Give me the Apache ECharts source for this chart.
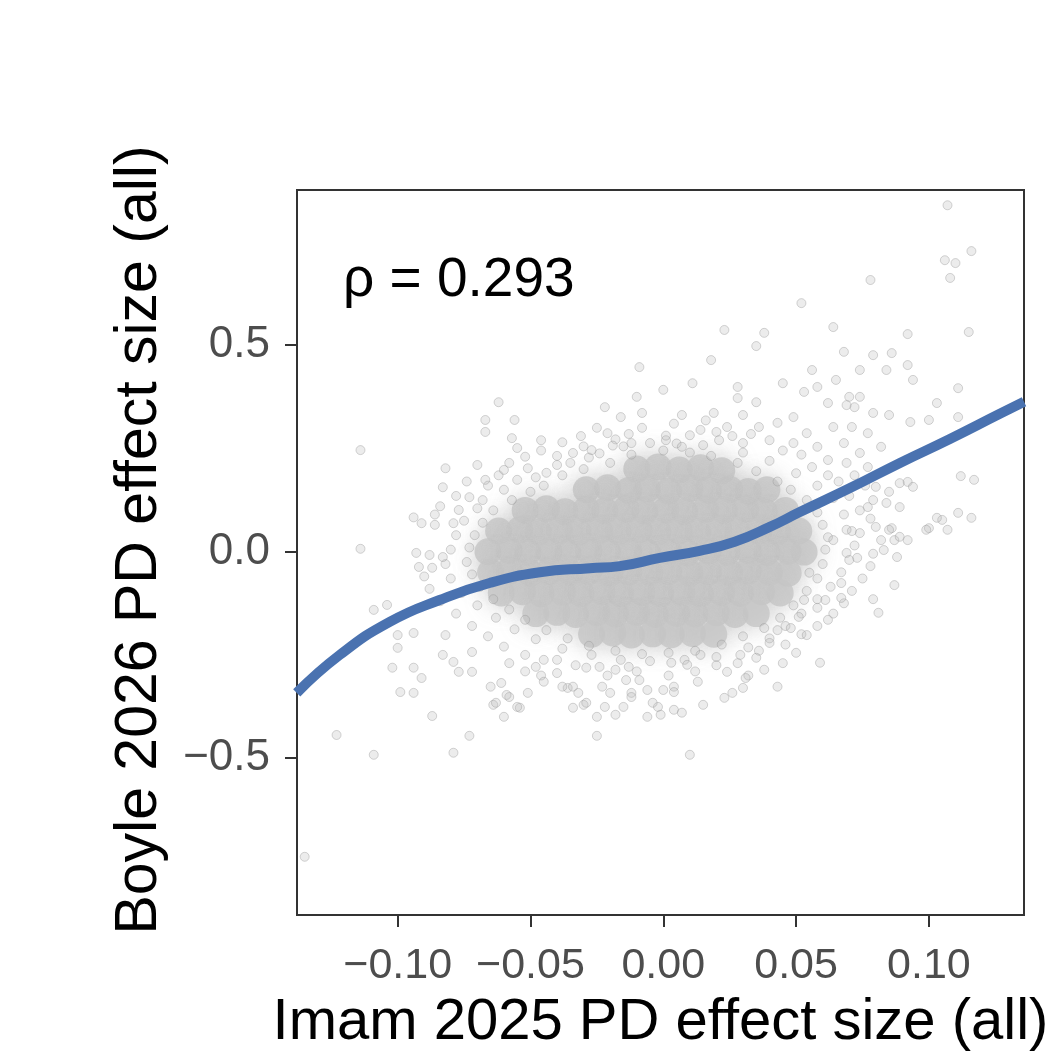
<!DOCTYPE html>
<html>
<head>
<meta charset="utf-8">
<title>PD effect size comparison</title>
<script src="https://cdn.jsdelivr.net/npm/echarts@6/dist/echarts.min.js"></script>
<style>
  html, body { margin: 0; padding: 0; background: #fff; }
  #chart { width: 1052px; height: 1057px; }
</style>
</head>
<body>
<div id="chart"></div>
<script>
// axis ticks
var xTicks = [-0.1, -0.05, 0, 0.05, 0.1]
var xTickLabels = ['\u22120.10', '\u22120.05', '0.00', '0.05', '0.10']
var yTicks = [-0.5, 0, 0.5]
var yTickLabels = ['\u22120.5', '0.0', '0.5']

// dense core of the cloud (points overlap into solid grey there)
var coreCloud = [
  [-0.010, 0.200], [-0.002, 0.205], [0.006, 0.198], [0.014, 0.203], [0.022, 0.196],
  [-0.029, 0.150], [-0.021, 0.155], [-0.013, 0.148], [-0.006, 0.152], [0.002, 0.147], [0.010, 0.153], [0.017, 0.149], [0.025, 0.151], [0.032, 0.146], [0.039, 0.150],
  [-0.052, 0.100], [-0.044, 0.104], [-0.037, 0.097], [-0.029, 0.102], [-0.022, 0.099], [-0.014, 0.103], [-0.007, 0.098], [0.001, 0.101], [0.008, 0.097], [0.016, 0.102], [0.023, 0.099], [0.031, 0.103], [0.038, 0.098], [0.046, 0.100],
  [-0.062, 0.050], [-0.054, 0.053], [-0.047, 0.048], [-0.039, 0.051], [-0.032, 0.047], [-0.024, 0.052], [-0.017, 0.049], [-0.009, 0.053], [-0.002, 0.048], [0.006, 0.051], [0.013, 0.047], [0.021, 0.052], [0.028, 0.049], [0.036, 0.051], [0.043, 0.048], [0.051, 0.050],
  [-0.066, 0.000], [-0.058, 0.003], [-0.051, -0.002], [-0.043, 0.001], [-0.036, -0.003], [-0.028, 0.002], [-0.021, -0.001], [-0.013, 0.003], [-0.006, -0.002], [0.002, 0.001], [0.009, -0.003], [0.017, 0.002], [0.024, -0.001], [0.032, 0.003], [0.039, -0.002], [0.047, 0.001], [0.053, -0.001],
  [-0.065, -0.050], [-0.058, -0.047], [-0.050, -0.052], [-0.043, -0.048], [-0.035, -0.051], [-0.028, -0.047], [-0.020, -0.052], [-0.013, -0.049], [-0.005, -0.051], [0.002, -0.048], [0.010, -0.052], [0.017, -0.049], [0.025, -0.051], [0.032, -0.047], [0.040, -0.050], [0.047, -0.052],
  [-0.061, -0.100], [-0.053, -0.097], [-0.046, -0.102], [-0.038, -0.098], [-0.031, -0.101], [-0.023, -0.097], [-0.016, -0.102], [-0.008, -0.099], [-0.001, -0.101], [0.007, -0.098], [0.014, -0.102], [0.022, -0.099], [0.029, -0.101], [0.037, -0.097], [0.044, -0.100],
  [-0.048, -0.150], [-0.040, -0.147], [-0.033, -0.152], [-0.025, -0.148], [-0.018, -0.151], [-0.010, -0.147], [-0.003, -0.152], [0.005, -0.149], [0.012, -0.151], [0.020, -0.148], [0.027, -0.152], [0.035, -0.150],
  [-0.027, -0.200], [-0.019, -0.197], [-0.012, -0.202], [-0.004, -0.199], [0.003, -0.201], [0.011, -0.198], [0.019, -0.200]
]

// points just around the core
var ringPoints = [
  [-0.045, 0.160], [-0.038, 0.185], [-0.030, 0.200], [-0.020, 0.215], [-0.012, 0.235], [0.000, 0.245], [0.010, 0.240], [0.018, 0.232], [0.028, 0.215], [0.035, 0.195], [0.043, 0.170],
  [0.048, 0.150], [0.054, 0.125], [0.058, 0.095], [0.060, 0.065], [0.062, 0.035], [0.061, 0.005], [0.060, -0.030], [0.058, -0.065], [0.054, -0.095], [0.049, -0.130], [0.044, -0.160],
  [0.038, -0.185], [0.030, -0.205], [0.022, -0.225], [0.012, -0.240], [0.002, -0.245], [-0.008, -0.248], [-0.018, -0.240], [-0.028, -0.228], [-0.036, -0.210], [-0.044, -0.190],
  [-0.052, -0.165], [-0.058, -0.140], [-0.064, -0.115], [-0.069, -0.085], [-0.072, -0.055], [-0.074, -0.025], [-0.073, 0.010], [-0.071, 0.040], [-0.068, 0.070], [-0.064, 0.100],
  [-0.057, 0.125], [-0.050, 0.145],
  [-0.060, 0.150], [-0.048, 0.180], [-0.040, 0.210], [-0.028, 0.228], [-0.015, 0.255], [0.005, 0.262], [0.015, 0.258], [0.030, 0.240], [0.040, 0.220], [0.050, 0.190],
  [0.058, 0.160], [0.064, 0.130], [0.068, 0.090], [0.071, 0.050], [0.072, 0.015], [0.070, -0.020], [0.067, -0.050], [0.063, -0.085], [0.058, -0.115], [0.052, -0.150],
  [0.046, -0.180], [0.040, -0.210], [0.032, -0.232], [0.020, -0.255], [0.008, -0.262], [-0.005, -0.265], [-0.016, -0.262], [-0.027, -0.250], [-0.038, -0.235], [-0.048, -0.212],
  [-0.056, -0.188], [-0.063, -0.160], [-0.070, -0.130], [-0.076, -0.100], [-0.080, -0.065], [-0.082, -0.030], [-0.080, 0.005], [-0.078, 0.040], [-0.075, 0.075], [-0.070, 0.105]
]

// speckled zone between the core and the sparse outliers
var midPoints = [
  [-0.066, 0.160], [-0.062, 0.185], [-0.058, 0.215], [-0.052, 0.230], [-0.046, 0.245], [-0.040, 0.232], [-0.035, 0.215], [-0.030, 0.255], [-0.024, 0.238], [-0.018, 0.272],
  [-0.013, 0.285], [-0.046, 0.270], [-0.038, 0.265], [-0.031, 0.280], [-0.025, 0.300], [-0.070, 0.210], [-0.074, 0.170], [-0.078, 0.135], [-0.084, 0.110], [-0.086, 0.090],
  [-0.008, 0.300], [0.004, 0.310], [0.010, 0.282], [0.016, 0.318], [0.020, 0.290], [0.026, 0.280], [0.033, 0.285], [0.040, 0.270], [0.045, 0.245], [0.052, 0.235],
  [0.056, 0.205], [0.062, 0.185], [0.066, 0.170], [0.072, 0.185], [0.076, 0.160], [0.070, 0.135], [0.074, 0.100], [0.078, 0.080], [0.080, 0.060],
  [-0.060, -0.230], [-0.066, -0.205], [-0.072, -0.180], [-0.078, -0.150], [-0.084, -0.120], [-0.088, -0.090], [-0.090, -0.060], [-0.052, -0.250], [-0.045, -0.262], [-0.033, -0.275],
  [-0.021, -0.300], [-0.010, -0.290], [0.002, -0.300], [0.012, -0.290], [0.020, -0.275], [0.028, -0.270], [0.036, -0.240], [0.046, -0.225], [0.052, -0.200], [0.058, -0.180],
  [0.064, -0.150], [0.068, -0.125], [0.071, -0.095], [0.075, -0.065], [0.078, -0.035], [0.079, -0.005], [-0.046, -0.300], [-0.052, -0.290], [-0.058, -0.270], [0.032, -0.300],
  [0.045, -0.270]
]

var outerPoints = [
  [0.107, 0.839], [0.106, 0.706], [0.110, 0.699], [0.116, 0.728], [0.108, 0.663], [0.078, 0.658], [0.115, 0.532], [0.092, 0.527], [0.052, 0.602], [0.064, 0.544],
  [0.023, 0.537], [0.038, 0.530], [0.035, 0.498], [0.018, 0.464], [0.068, 0.484], [0.079, 0.476], [0.086, 0.481], [0.092, 0.452], [0.084, 0.440], [0.074, 0.440],
  [0.056, 0.440], [0.065, 0.416], [0.094, 0.416], [0.111, 0.396], [0.011, 0.408], [0.045, 0.408], [0.028, 0.399], [0.053, 0.387], [0.058, 0.399], [0.103, 0.360],
  [0.111, 0.326], [0.100, 0.319], [0.093, 0.314], [0.085, 0.331], [0.079, 0.336], [0.072, 0.350], [0.070, 0.375], [0.062, 0.360], [0.112, 0.183], [0.117, 0.174],
  [0.111, 0.094], [0.116, 0.082], [0.105, 0.077], [0.100, 0.057], [0.086, 0.057], [0.087, 0.028], [0.092, 0.169], [0.085, 0.145], [0.079, 0.125], [0.089, 0.036],
  [0.000, 0.392], [0.074, 0.375], [0.028, 0.372], [0.035, 0.362], [0.069, 0.355], [0.007, 0.331], [0.019, 0.336], [0.030, 0.331], [0.049, 0.326], [0.014, 0.295],
  [0.024, 0.302], [0.036, 0.302], [0.043, 0.312], [0.054, 0.287], [0.064, 0.302], [0.071, 0.302], [0.077, 0.287], [0.001, 0.270], [0.007, 0.254], [0.021, 0.270],
  [0.030, 0.263], [0.049, 0.263], [0.058, 0.254], [0.068, 0.263], [0.074, 0.239], [0.082, 0.254], [0.062, 0.222], [0.069, 0.215], [0.077, 0.205], [0.089, 0.166],
  [0.094, 0.157], [0.080, 0.157], [0.084, 0.118], [0.089, 0.108], [0.077, 0.108], [0.103, 0.082], [0.107, 0.053], [0.099, 0.053], [0.085, 0.053], [0.082, 0.028],
  [0.074, 0.045], [0.069, 0.053], [0.064, 0.028],
  [-0.009, 0.447], [-0.062, 0.362], [-0.067, 0.319], [-0.056, 0.319], [-0.067, 0.290], [-0.057, 0.275], [-0.055, 0.251], [-0.114, 0.246], [-0.010, 0.375], [-0.022, 0.350],
  [-0.016, 0.326], [-0.008, 0.336], [-0.082, 0.202], [-0.083, 0.156], [-0.094, 0.083], [-0.091, 0.069], [-0.086, 0.065], [-0.021, 0.287], [-0.027, 0.246], [-0.034, 0.239],
  [-0.019, 0.257], [-0.012, 0.263], [-0.005, 0.263], [0.001, 0.281], [-0.051, 0.202], [-0.060, 0.198], [-0.044, 0.191], [-0.067, 0.174], [-0.055, 0.174], [-0.073, 0.132],
  [-0.068, 0.125], [-0.077, 0.101], [-0.079, 0.069], [-0.093, -0.003], [-0.088, -0.008], [-0.083, -0.013], [-0.092, -0.037], [-0.087, -0.039],
  [-0.114, 0.007], [-0.109, -0.141], [-0.104, -0.129], [-0.100, -0.202], [-0.094, -0.197], [-0.100, -0.233], [-0.102, -0.281], [-0.094, -0.281], [-0.091, -0.306], [-0.099, -0.340],
  [-0.094, -0.342], [-0.087, -0.398], [-0.123, -0.444], [-0.109, -0.492], [-0.073, -0.446], [-0.079, -0.487], [-0.135, -0.739], [-0.082, -0.202], [-0.083, -0.250], [-0.079, -0.267],
  [-0.072, -0.243], [-0.077, -0.291], [-0.072, -0.291], [-0.065, -0.327], [-0.061, -0.318], [-0.064, -0.371], [-0.060, -0.400], [-0.058, -0.352], [-0.054, -0.378], [-0.051, -0.342],
  [-0.045, -0.315], [-0.040, -0.294], [-0.034, -0.378], [-0.030, -0.371], [-0.025, -0.400], [-0.025, -0.446], [-0.022, -0.376], [-0.018, -0.395], [-0.015, -0.376], [-0.012, -0.342],
  [-0.006, -0.400], [-0.002, -0.376], [-0.036, -0.330], [-0.032, -0.342], [-0.023, -0.327], [-0.020, -0.342], [-0.014, -0.311], [-0.009, -0.311], [-0.013, -0.279], [-0.018, -0.286],
  [-0.024, -0.279], [-0.029, -0.281], [-0.040, -0.262], [-0.048, -0.279], [-0.063, -0.366], [-0.059, -0.347], [-0.055, -0.376], [-0.038, -0.327], [-0.034, -0.327], [-0.029, -0.366],
  [-0.006, -0.335], [-0.012, -0.352], [-0.004, -0.366], [0.000, -0.335], [0.004, -0.327], [-0.001, -0.395], [0.004, -0.383],
  [0.087, -0.081], [0.079, -0.115], [0.081, -0.148], [0.067, -0.076], [0.067, -0.112], [0.062, -0.165], [0.061, -0.117], [0.058, -0.136], [0.054, -0.202], [0.050, -0.245],
  [0.059, -0.269], [0.048, -0.185], [0.043, -0.327], [0.038, -0.286], [0.031, -0.306], [0.030, -0.330], [0.026, -0.342], [0.023, -0.354], [0.015, -0.371], [0.007, -0.390],
  [0.013, -0.315], [0.004, -0.340], [0.024, -0.291], [0.029, -0.250], [0.035, -0.257], [0.040, -0.221], [0.043, -0.190], [0.014, -0.250], [0.009, -0.274], [0.003, -0.269],
  [0.051, -0.158], [0.053, -0.117], [0.055, -0.051], [0.069, -0.003], [0.073, -0.015], [0.083, 0.004], [0.088, -0.013], [0.092, 0.028], [0.010, -0.492]
]

// smooth fit
var fitX = [-0.1380, -0.1218, -0.1030, -0.0842, -0.0654, -0.0465, -0.0277, -0.0164, -0.0013, 0.0137, 0.0269, 0.0401, 0.0514, 0.0703, 0.0891, 0.1079, 0.1267, 0.1358]
var fitY = [-0.342, -0.250, -0.170, -0.117, -0.076, -0.050, -0.040, -0.035, -0.015, 0.002, 0.024, 0.060, 0.096, 0.154, 0.215, 0.273, 0.334, 0.363]

var chart = echarts.init(document.getElementById('chart'), null, { renderer: 'canvas' })

var fitData = fitX.map(function(x, i) {
  return [x, fitY[i]]
})

var pointStyle = {
  color: 'rgba(185,185,185,0.35)',
  borderColor: 'rgba(150,150,150,0.5)',
  borderWidth: 1
}

var fontFamily = 'Liberation Sans, Arial, sans-serif'

chart.setOption({
  backgroundColor: '#ffffff',
  animation: false,
  textStyle: { fontFamily: fontFamily },
  grid: {
    left: 297,
    top: 190,
    width: 727,
    height: 725,
    show: true,
    borderColor: '#333333',
    borderWidth: 2,
    containLabel: false,
    outerBoundsMode: 'none'
  },
  xAxis: {
    type: 'value',
    min: -0.1379,
    max: 0.1358,
    splitLine: { show: false },
    axisLine: { show: false, onZero: false },
    axisTick: {
      show: true,
      length: 12,
      lineStyle: { color: '#333333', width: 2 },
      customValues: xTicks
    },
    axisLabel: {
      margin: 30,
      fontSize: 43,
      color: '#4d4d4d',
      customValues: xTicks,
      formatter: function(v) {
        var i = xTicks.indexOf(v)
        return i >= 0 ? xTickLabels[i] : ''
      }
    },
    name: 'Imam 2025 PD effect size (all)',
    nameLocation: 'middle',
    nameGap: 79,
    nameTextStyle: { fontSize: 58, color: '#000000' }
  },
  yAxis: {
    type: 'value',
    min: -0.880,
    max: 0.876,
    splitLine: { show: false },
    axisLine: { show: false, onZero: false },
    axisTick: {
      show: true,
      length: 12,
      lineStyle: { color: '#333333', width: 2 },
      customValues: yTicks
    },
    axisLabel: {
      margin: 27,
      fontSize: 44,
      color: '#4d4d4d',
      customValues: yTicks,
      formatter: function(v) {
        var i = yTicks.indexOf(v)
        return i >= 0 ? yTickLabels[i] : ''
      }
    }
  },
  graphic: [
    {
      type: 'text',
      left: 343,
      top: 253,
      style: {
        text: '\u03c1 = 0.293',
        fontSize: 55,
        fill: '#000000',
        fontFamily: fontFamily
      }
    },
    {
      type: 'text',
      x: 140,
      y: 540,
      rotation: Math.PI / 2,
      style: {
        text: 'Boyle 2026 PD effect size (all)',
        fontSize: 59,
        fill: '#000000',
        fontFamily: fontFamily,
        align: 'center',
        verticalAlign: 'middle'
      }
    }
  ],
  series: [
    {
      name: 'core',
      type: 'scatter',
      data: coreCloud,
      symbolSize: 27,
      itemStyle: {
        color: '#c6c6c6',
        shadowBlur: 24,
        shadowColor: 'rgba(195,195,195,1)'
      },
      silent: true,
      z: 1
    },
    {
      name: 'ring',
      type: 'scatter',
      data: ringPoints,
      symbolSize: 9,
      itemStyle: pointStyle,
      silent: true,
      z: 2
    },
    {
      name: 'mid',
      type: 'scatter',
      data: midPoints,
      symbolSize: 9,
      itemStyle: pointStyle,
      silent: true,
      z: 2
    },
    {
      name: 'points',
      type: 'scatter',
      data: outerPoints,
      symbolSize: 9,
      itemStyle: pointStyle,
      silent: true,
      z: 2
    },
    {
      name: 'fit',
      type: 'line',
      data: fitData,
      smooth: true,
      showSymbol: false,
      lineStyle: { color: '#4a72b0', width: 10 },
      silent: true,
      z: 5
    }
  ]
})
</script>
</body>
</html>
